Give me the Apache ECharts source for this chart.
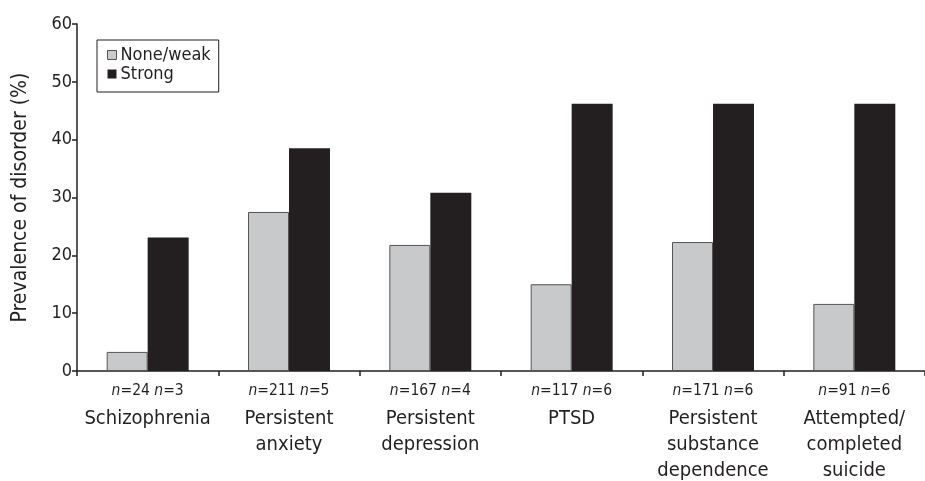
<!DOCTYPE html>
<html>
<head>
<meta charset="utf-8">
<script src="https://cdn.jsdelivr.net/npm/echarts@6/dist/echarts.min.js"></script>
<style>html,body{margin:0;padding:0;background:#fff}#c{width:925px;height:481px}</style>
</head>
<body>
<div id="c"></div>
<script>
const categories = ["Schizophrenia", "Persistent\nanxiety", "Persistent\ndepression", "PTSD", "Persistent\nsubstance\ndependence", "Attempted/\ncompleted\nsuicide"];
const nNoneWeak = [24, 211, 167, 117, 171, 91];
const nStrong = [3, 5, 4, 6, 6, 6];
const noneWeak = [3.3, 27.5, 21.8, 15.0, 22.3, 11.6];
const strong = [23.1, 38.5, 30.8, 46.2, 46.2, 46.2];
const yTicks = [0, 10, 20, 30, 40, 50, 60];

const FONT = '"Liberation Sans Narrow", "DejaVu Sans Condensed", "Liberation Sans", sans-serif';
const labels = categories.map((c, i) =>
  `{i|n}{r|=${nNoneWeak[i]} }{i|n}{r|=${nStrong[i]}}\n` + c.split('\n').map(s => `{c|${s}}`).join('\n'));

const chart = echarts.init(document.getElementById('c'), null, {renderer: 'canvas'});
chart.setOption({
  animation: false,
  textStyle: {fontFamily: FONT},
  grid: {left: 77, top: 24, width: 856, height: 348, containLabel: false},
  legend: {
    orient: 'vertical', left: 97, top: 40,
    padding: [6, 8, 9, 10],
    itemWidth: 9, itemHeight: 9, itemGap: 1,
    borderColor: '#231f20', borderWidth: 1,
    textStyle: {fontFamily: FONT, fontSize: 18, color: '#231f20', padding: [0, 0, 0, -1]},
    data: [
      {name: 'None/weak', icon: 'rect', itemStyle: {color: '#c8c9cb', borderColor: '#555', borderWidth: 1}},
      {name: 'Strong', icon: 'rect', itemStyle: {color: '#231f20'}}
    ]
  },
  xAxis: {
    type: 'category', data: labels,
    axisLine: {lineStyle: {color: '#231f20', width: 1.5}},
    axisTick: {show: true, alignWithLabel: false, length: 5, inside: false, lineStyle: {color: '#231f20', width: 1.5}},
    axisLabel: {
      interval: 0, margin: 5, color: '#231f20',
      rich: {
        i: {fontFamily: FONT, fontSize: 15.5, fontStyle: 'italic', lineHeight: 30, color: '#231f20'},
        r: {fontFamily: FONT, fontSize: 15.5, lineHeight: 30, color: '#231f20'},
        c: {fontFamily: FONT, fontSize: 20, lineHeight: 26, color: '#231f20'}
      }
    }
  },
  yAxis: {
    type: 'value', min: 0, max: 60, interval: 10,
    name: 'Prevalence of disorder (%)', nameLocation: 'middle', nameGap: 46,
    nameTextStyle: {fontFamily: FONT, fontSize: 21, color: '#231f20'},
    splitLine: {show: false},
    axisLine: {show: true, lineStyle: {color: '#231f20', width: 1.5}},
    axisTick: {show: true, length: 5, lineStyle: {color: '#231f20', width: 1.5}},
    axisLabel: {fontFamily: FONT, fontSize: 18, color: '#231f20', margin: 5,
      formatter: v => yTicks.includes(v) ? String(v) : ''}
  },
  series: [
    {name: 'None/weak', type: 'bar', data: noneWeak, barGap: '0%', barCategoryGap: '42%',
      itemStyle: {color: '#c8c9cb', borderColor: '#555', borderWidth: 1}},
    {name: 'Strong', type: 'bar', data: strong, barGap: '0%', barCategoryGap: '42%',
      itemStyle: {color: '#231f20'}}
  ]
});
</script>
</body>
</html>
